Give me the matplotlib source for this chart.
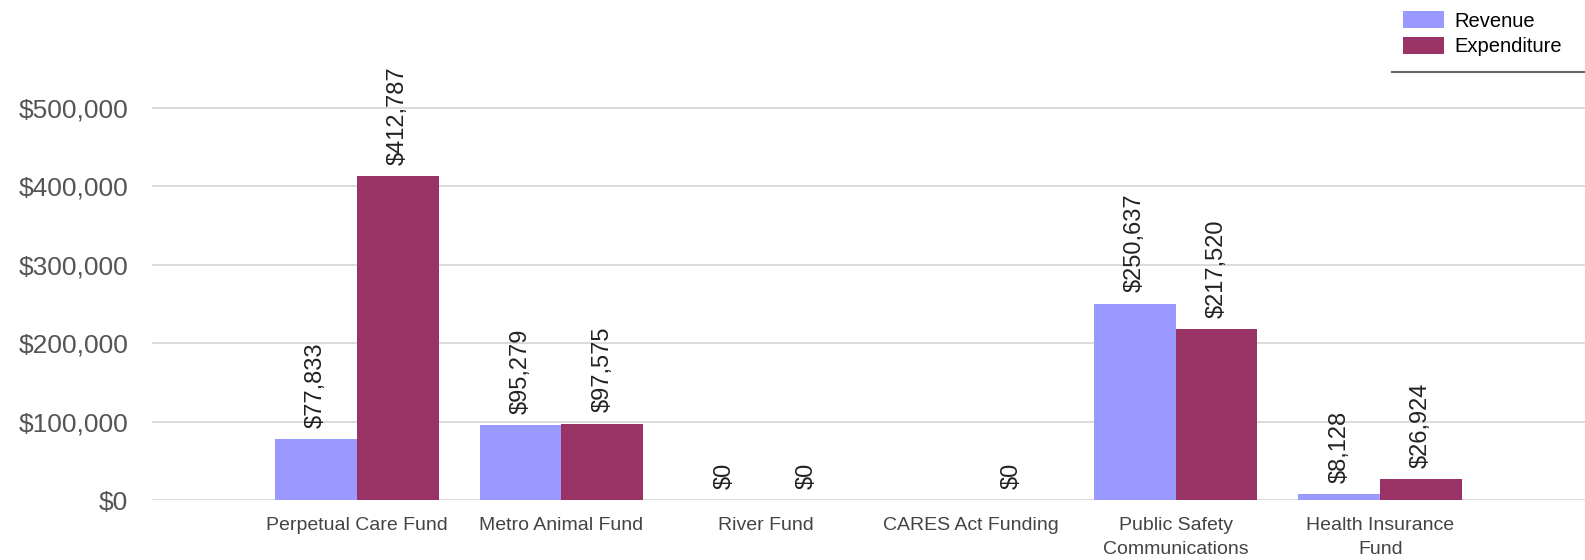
import numpy as np
import matplotlib
matplotlib.use("Agg")
import matplotlib.pyplot as plt
from matplotlib.patches import Patch
from matplotlib.lines import Line2D

categories = ["Perpetual Care Fund", "Metro Animal Fund", "River Fund",
              "CARES Act Funding", "Public Safety\nCommunications", "Health Insurance\nFund"]
revenue = [77833, 95279, 0, None, 250637, 8128]
expenditure = [412787, 97575, 0, 0, 217520, 26924]
series_names = ["Revenue", "Expenditure"]
yticks = [0, 100000, 200000, 300000, 400000, 500000]

plt.rcParams['font.family'] = ['Liberation Sans', 'DejaVu Sans']

W, H = 1585, 560
fig = plt.figure(figsize=(W / 100, H / 100), dpi=100)
ax = fig.add_axes([152 / W, 60 / H, 1 - 152 / W, 439 / H])

c_rev = "#9999ff"
c_exp = "#993366"
bw = 0.4
x = np.arange(len(categories))

rev_vals = np.array([np.nan if v is None else v for v in revenue], dtype=float)
exp_vals = np.array([np.nan if v is None else v for v in expenditure], dtype=float)

ax.bar(x - bw / 2, np.nan_to_num(rev_vals), width=bw, color=c_rev, zorder=3, linewidth=0)
ax.bar(x + bw / 2, np.nan_to_num(exp_vals), width=bw, color=c_exp, zorder=3, linewidth=0)

def lab(xs, vals):
    for xi, v in zip(xs, vals):
        if np.isnan(v):
            continue
        ax.annotate(f"${int(v):,}", (xi, v), xytext=(0, 8), textcoords="offset points",
                    rotation=90, ha="center", va="bottom", fontsize=17, color="#222222")

lab(x - bw / 2, rev_vals)
lab(x + bw / 2, exp_vals)

ax.set_xlim(-1, 6)
ax.set_ylim(0, 560000)
ax.set_yticks(yticks)
ax.set_yticklabels([f"${t:,}" for t in yticks])
ax.set_xticks(x)
ax.set_xticklabels(categories, fontsize=14, color="#444444", linespacing=1.55)
ax.tick_params(axis="y", length=0, pad=17, labelsize=19, labelcolor="#555555")
ax.tick_params(axis="x", length=0, pad=12)
ax.grid(axis="y", color="#dadada", linewidth=1.4, zorder=0)
ax.set_axisbelow(True)
for s in ax.spines.values():
    s.set_visible(False)

handles = [Patch(facecolor=c_rev, edgecolor="none"), Patch(facecolor=c_exp, edgecolor="none")]
fig.legend(handles, series_names, loc="upper left", bbox_to_anchor=(1399 / W, 1 - 7 / H),
           frameon=False, fontsize=14.5, handlelength=2.05, handleheight=0.95,
           handletextpad=0.5, labelspacing=0.3, borderpad=0.2, borderaxespad=0)
fig.add_artist(Line2D([1392 / W, 1.0], [1 - 72 / H, 1 - 72 / H], transform=fig.transFigure,
                      color="#666666", linewidth=1.5))

fig.savefig("out.png", dpi=100)
